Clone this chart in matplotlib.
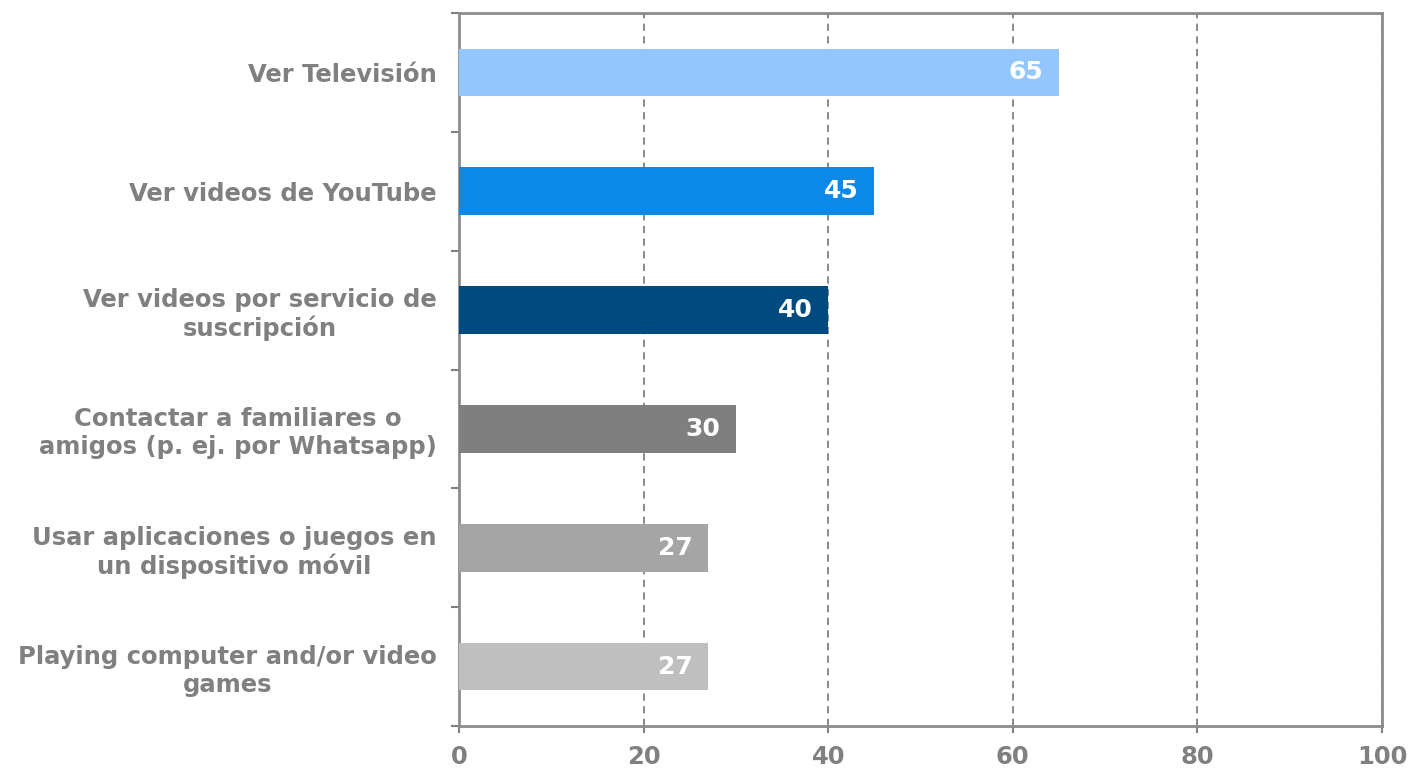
import matplotlib
matplotlib.use("Agg")
from matplotlib import pyplot as plt

# datos
categorias = ["Ver Televisión", "Ver videos de YouTube",
              "Ver videos por servicio de\nsuscripción",
              "Contactar a familiares o\namigos (p. ej. por Whatsapp)",
              "Usar aplicaciones o juegos en\nun dispositivo móvil",
              "Playing computer and/or video\ngames"]
valores = [65, 45, 40, 30, 27, 27]
colores = ["#93C6FD", "#0B89E8", "#004A80", "#7F7F7F", "#A5A5A5", "#BFBFBF"]
xticks = [0, 20, 40, 60, 80, 100]

gris = "#808080"
plt.rcParams['font.family'] = ['DejaVu Sans']
plt.rcParams['font.weight'] = 'bold'

fig = plt.figure(figsize=(14.09, 7.69), dpi=100)
ax = fig.add_axes([0.3258, 0.0559, 0.6550, 0.9272])

pos = list(range(len(categorias)))
ax.barh(pos, valores, height=0.4, color=colores, zorder=3)
for p, v in zip(pos, valores):
    ax.text(v - 1.7, p, str(v), ha="right", va="center", color="white",
            fontsize=18, fontweight="bold", zorder=4)

ax.set_xlim(0, 100)
ax.set_ylim(len(categorias) - 0.5, -0.5)
ax.set_xticks(xticks)
ax.set_xticklabels([str(t) for t in xticks])
ax.set_yticks(pos)
ax.set_yticklabels(categorias, ha="right", multialignment="center",
                   linespacing=1.2)
ax.set_yticks([i - 0.5 for i in range(len(categorias) + 1)], minor=True)

ax.tick_params(axis="y", which="major", length=0, pad=16, labelsize=17.5,
               labelcolor=gris)
ax.tick_params(axis="y", which="minor", length=5.5, width=1.5, color=gris)
ax.tick_params(axis="x", length=5, width=1.5, color=gris, pad=9,
               labelsize=17.5, labelcolor=gris)

ax.xaxis.grid(True, linestyle=(0, (4, 3)), color=gris, linewidth=1.3, zorder=0)
for s in ax.spines.values():
    s.set_color("#8C8C8C")
    s.set_linewidth(2)

fig.savefig("out.png", dpi=100)
